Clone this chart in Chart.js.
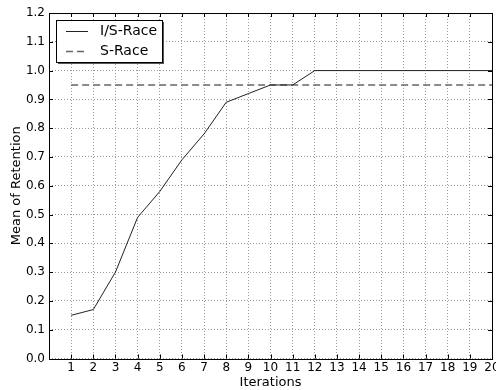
<!DOCTYPE html>
<html>
<head>
<meta charset="utf-8">
<script src="https://cdn.jsdelivr.net/npm/chart.js@4/dist/chart.umd.min.js"></script>
<style>
  html, body { margin: 0; padding: 0; background: #fff; }
  #wrap { width: 496px; height: 390px; }
</style>
</head>
<body>
<div id="wrap"><canvas id="chart" width="496" height="390"></canvas></div>
<script>
const iterations = [1, 2, 3, 4, 5, 6, 7, 8, 9, 10, 11, 12, 13, 14, 15, 16, 17, 18, 19, 20];
const isRace = [0.15, 0.17, 0.30, 0.49, 0.58, 0.69, 0.78, 0.89, 0.92, 0.95, 0.95, 1.0, 1.0, 1.0, 1.0, 1.0, 1.0, 1.0, 1.0, 1.0];
const sRace = [0.95, 0.95, 0.95, 0.95, 0.95, 0.95, 0.95, 0.95, 0.95, 0.95, 0.95, 0.95, 0.95, 0.95, 0.95, 0.95, 0.95, 0.95, 0.95, 0.95];
const seriesNames = ['I/S-Race', 'S-Race'];

const FONT = 'DejaVu Sans';

// frame, inward ticks and boxed legend, matplotlib style
const framePlugin = {
    id: 'frame',
    afterDraw(chart) {
        const { ctx, chartArea: a, scales } = chart;
        ctx.save();
        ctx.strokeStyle = '#000';
        ctx.lineWidth = 1;
        ctx.beginPath();
        scales.x.ticks.forEach(t => {
            const px = Math.round(scales.x.getPixelForValue(t.value)) + 0.5;
            ctx.moveTo(px, a.bottom); ctx.lineTo(px, a.bottom - 4);
            ctx.moveTo(px, a.top); ctx.lineTo(px, a.top + 4);
        });
        scales.y.ticks.forEach(t => {
            const py = Math.round(scales.y.getPixelForValue(t.value)) + 0.5;
            ctx.moveTo(a.left, py); ctx.lineTo(a.left + 4, py);
            ctx.moveTo(a.right, py); ctx.lineTo(a.right - 4, py);
        });
        ctx.stroke();
        ctx.strokeRect(Math.round(a.left) + 0.5, Math.round(a.top) + 0.5,
            Math.round(a.right - a.left), Math.round(a.bottom - a.top));

        // legend box
        const bx = a.left + 7, by = a.top + 7, bw = 106, bh = 42;
        ctx.fillStyle = '#555';
        ctx.fillRect(bx + 2, by + 2, bw, bh);
        ctx.fillStyle = '#fff';
        ctx.fillRect(bx, by, bw, bh);
        ctx.strokeStyle = '#000';
        ctx.strokeRect(bx + 0.5, by + 0.5, bw, bh);
        ctx.font = '14px ' + FONT;
        ctx.textBaseline = 'middle';
        ctx.fillStyle = '#000';
        chart.data.datasets.forEach((ds, i) => {
            const ry = Math.round(by + 11 + i * 20) + 0.5;
            ctx.strokeStyle = ds.borderColor;
            ctx.lineWidth = ds.borderWidth;
            ctx.setLineDash(ds.borderDash || []);
            ctx.beginPath();
            ctx.moveTo(bx + 10, ry); ctx.lineTo(bx + 32, ry);
            ctx.stroke();
            ctx.setLineDash([]);
            ctx.fillText(ds.label, bx + 44, ry);
        });
        ctx.restore();
    }
};

new Chart(document.getElementById('chart'), {
    type: 'line',
    data: {
        datasets: [
            {
                label: seriesNames[0],
                data: iterations.map((x, i) => ({ x, y: isRace[i] })),
                borderColor: '#222',
                borderWidth: 1,
                pointRadius: 0,
                tension: 0
            },
            {
                label: seriesNames[1],
                data: iterations.map((x, i) => ({ x, y: sRace[i] })),
                borderColor: '#666',
                borderWidth: 1.5,
                borderDash: [7, 4],
                pointRadius: 0,
                tension: 0
            }
        ]
    },
    options: {
        responsive: false,
        animation: false,
        layout: { padding: { top: 13, right: 4, left: 0, bottom: 0 } },
        plugins: { legend: { display: false }, tooltip: { enabled: false } },
        scales: {
            x: {
                type: 'linear',
                min: 0, max: 20,
                afterFit(s) { s.height = 31.5; s.paddingRight = 0; s.paddingLeft = 0; },
                ticks: {
                    stepSize: 1,
                    autoSkip: false,
                    maxRotation: 0,
                    padding: 2,
                    color: '#000',
                    font: { family: FONT, size: 12 },
                    callback: v => v === 0 ? '' : String(v)
                },
                grid: { color: '#999', drawTicks: false, lineWidth: 1 },
                border: { display: false, dash: [1, 2] },
                title: {
                    display: true, text: 'Iterations', color: '#000',
                    font: { family: FONT, size: 13 }, padding: { top: 0, bottom: 0 }
                }
            },
            y: {
                min: 0, max: 1.2,
                afterFit(s) { s.width = 49; s.paddingTop = 0; s.paddingBottom = 0; },
                ticks: {
                    stepSize: 0.1,
                    padding: 4,
                    color: '#000',
                    font: { family: FONT, size: 12 },
                    callback: v => Number(v).toFixed(1)
                },
                grid: { color: '#999', drawTicks: false, lineWidth: 1 },
                border: { display: false, dash: [1, 2] },
                title: {
                    display: true, text: 'Mean of Retention', color: '#000',
                    font: { family: FONT, size: 13 }, padding: { top: 9, bottom: 0 }
                }
            }
        }
    },
    plugins: [framePlugin]
});
</script>
</body>
</html>
